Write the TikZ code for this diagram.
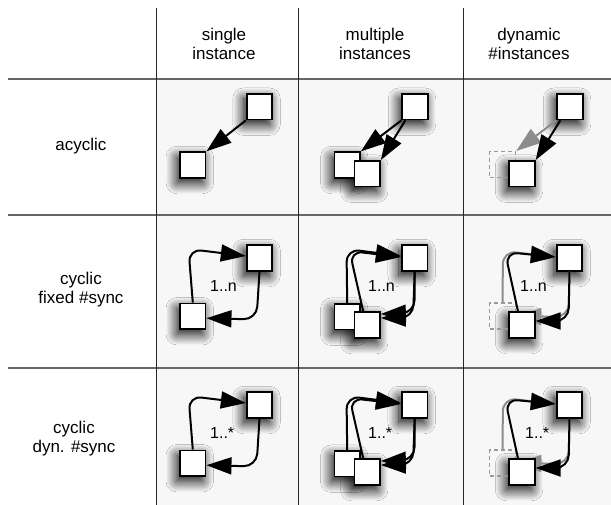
\documentclass[tikz,border=0pt]{standalone}
\usepackage{fontspec}
\setmainfont{Liberation Sans}
\usetikzlibrary{arrows.meta,shadows.blur}
\begin{document}
\begin{tikzpicture}[x=1pt,y=-1pt,
  sq/.style={draw=black,fill=white,line width=1.8pt,minimum size=25.5pt,inner sep=0pt},
  sqshadow/.style={fill=white,minimum size=25.5pt,inner sep=0pt,
     blur shadow={shadow xshift=-3pt,shadow yshift=-5pt,shadow blur radius=11pt,shadow blur steps=16,shadow opacity=100,shadow scale=1.0}},
  ghost/.style={draw=black!40,line width=1.5pt,dash pattern=on 4pt off 3pt,minimum size=26pt,inner sep=0pt},
  conn/.style={line width=2pt,rounded corners=13pt,-{Triangle[length=25pt,width=17pt]}},
  gconn/.style={conn,draw=black!45},
  hdr/.style={font=\fontsize{17}{19}\selectfont,align=center},
  num/.style={font=\fontsize{16}{18}\selectfont,anchor=base west,inner sep=0pt},
  hline/.style={line width=1.5pt,draw=black!60},
  vline/.style={line width=1.1pt,draw=black!85}
]
\useasboundingbox (0,0) rectangle (611,505);
\fill[white] (0,0) rectangle (611,505);
\fill[black!3] (156.5,79) rectangle (611,505);
\draw[hline] (8,79) -- (611,79);
\draw[hline] (8,215) -- (611,215);
\draw[hline] (8,368) -- (611,368);
\draw[vline] (156.5,8) -- (156.5,505);
\draw[vline] (298.5,8) -- (298.5,505);
\draw[vline] (463.5,8) -- (463.5,505);

\node[hdr] (h1) at (224,43.5) {single\\instance};
\node[hdr] (h2) at (375,43.5) {multiple\\instances};
\node[hdr] (h3) at (529,43.5) {dynamic\\\#instances};
\node[hdr] (r1) at (81,145.7) {acyclic};
\node[hdr] (r2) at (81,289.3) {cyclic\\fixed \#sync};
\node[hdr] (r3) at (74,439) {cyclic\\dyn. \#sync};

\foreach \p [count=\i] in {(259.5,106.7),(192.8,165),(415,106.7),(347.2,165),(367.2,173.7),(570,106.7),(522,173.7),
 (259.5,258),(192.8,316.2),(414.7,258),(347.2,316.7),(367.2,325),(569.5,258),(522,325),
 (259.5,405),(192.8,463.2),(414.7,405),(347.2,463.7),(367.2,472),(569.5,405),(522,472)}
 \node[sqshadow] (sh\i) at \p {};

\node[sq] (T11) at (259.5,106.7) {};
\node[sq] (B11) at (192.8,165) {};
\node[sq] (T12) at (415,106.7) {};
\node[sq] (A12) at (347.2,165) {};
\node[sq] (F12) at (367.2,173.7) {};
\node[sq] (T13) at (570,106.7) {};
\node[ghost] (D13) at (502.5,164.7) {};
\draw[gconn] (T13.south west) -- (D13.north east);
\node[sq] (S13) at (522,173.7) {};
\draw[conn] (T11.south west) -- (B11.north east);
\draw[conn] (T12.south west) -- (A12.north east);
\draw[conn] ([xshift=4pt]T12.south west) -- (F12.north east);
\draw[conn] ([xshift=4pt]T13.south west) -- (S13.north east);

\foreach \r/\dy/\lab/\lx in {2/0/1..n/520,3/147/1..*/525}{
  \node[sq] (T\r1) at (259.5,258+\dy) {};
  \node[sq] (B\r1) at (192.8,316.2+\dy) {};
  \node[sq] (T\r2) at (414.7,258+\dy) {};
  \node[sq] (A\r2) at (347.2,316.7+\dy) {};
  \node[sq] (F\r2) at (367.2,325+\dy) {};
  \node[sq] (T\r3) at (569.5,258+\dy) {};
  \node[ghost] (D\r3) at (502.5,316.2+\dy) {};
  \draw[gconn] (D\r3.north) -- (503,251+\dy) -- ([yshift=1pt]T\r3.west);
  \draw[gconn] (T\r3.south) -- (568.5,317+\dy) -- (D\r3.east);
  \node[sq] (S\r3) at (522,325+\dy) {};
  \draw[conn] (B\r1.north) -- (188.5,249+\dy) -- ([yshift=2pt]T\r1.west);
  \draw[conn] (T\r1.south) -- (256.5,319.5+\dy) -- ([yshift=-2pt]B\r1.east);
  \draw[conn] (A\r2.north) -- (346.5,249+\dy) -- ([yshift=2pt]T\r2.west);
  \draw[conn] ([xshift=-4pt]F\r2.north) -- (349.5,251+\dy) -- ([yshift=1pt]T\r2.west);
  \draw[conn] (T\r2.south) -- (413,318+\dy) -- ([yshift=7pt]F\r2.east);
  \draw[conn] (T\r2.south) -- (414.5,313+\dy) -- ([yshift=11pt]F\r2.east);
  \draw[conn] ([xshift=-4pt]S\r3.north) -- (505,252+\dy) -- ([yshift=1pt]T\r3.west);
  \draw[conn] (T\r3.south) -- (568.5,321+\dy) -- ([yshift=4pt]S\r3.east);
  \node[num] (n\r1) at (210,291.7+\dy) {\lab};
  \node[num] (n\r2) at (368,291.7+\dy) {\lab};
  \node[num] (n\r3) at (\lx,291.7+\dy) {\lab};
}
\end{tikzpicture}
\end{document}
